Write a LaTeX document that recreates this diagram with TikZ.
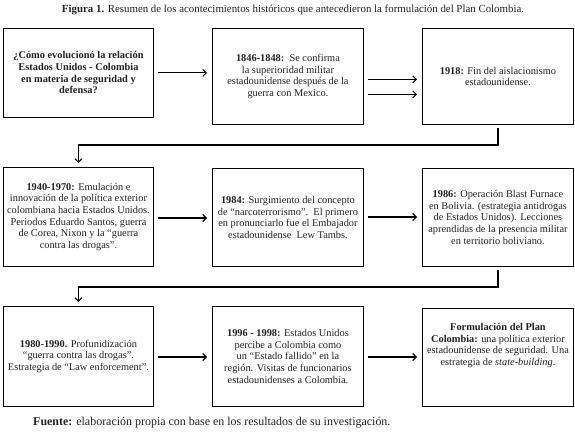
\documentclass[tikz,border=0pt]{standalone}
\usepackage{fontspec}
\setmainfont{Liberation Serif}
\usetikzlibrary{arrows.meta}
\definecolor{ink}{HTML}{222222}
\begin{document}
\begin{tikzpicture}[x=1bp,y=-1bp,
  box/.style={draw=black, line width=0.9bp, anchor=north west, inner sep=0pt,
    align=center, text=ink, font=\fontsize{10.4}{11.7}\selectfont},
  conn/.style={line width=1.1bp, -{Straight Barb[length=3.5bp,width=7bp]}, shorten >=5bp, shorten <=4bp},
  plain/.style={line width=1.1bp},
  captxt/.style={text=ink, inner sep=0pt}]
\useasboundingbox (0,0) rectangle (575,436);

\node[captxt, font=\fontsize{10.9}{12}\selectfont] (title) at (293,10)
  {\textbf{Figura 1.} Resumen de los acontecimientos históricos que antecedieron la formulación del Plan Colombia.};

% row 1
\node[box, minimum width=150bp, minimum height=89bp] (b1) at (3,28)
  {\textbf{¿Cómo evolucionó la relación}\\\textbf{Estados Unidos - Colombia}\\\textbf{en materia de seguridad y}\\\textbf{defensa?}};
\node[box, minimum width=151bp, minimum height=96bp] (b2) at (212,28)
  {\textbf{1846-1848:}\ \ Se confirma\\la superioridad militar\\estadounidense después de la\\guerra con Mexico.};
\node[box, minimum width=151bp, minimum height=96bp] (b3) at (422,28)
  {\textbf{1918:} Fin del aislacionismo\\estadounidense.};

% row 2
\node[box, minimum width=150bp, minimum height=99bp] (b4) at (3,167)
  {\textbf{1940-1970:} Emulación e\\innovación de la política exterior\\colombiana hacia Estados Unidos.\\Periodos Eduardo Santos, guerra\\de Corea, Nixon y la ``guerra\\contra las drogas''.};
\node[box, minimum width=151bp, minimum height=98bp] (b5) at (212,168)
  {\textbf{1984:} Surgimiento del concepto\\de ``narcoterrorismo''.\ \ El primero\\en pronunciarlo fue el Embajador\\estadounidense\ \ Lew Tambs.};
\node[box, minimum width=151bp, minimum height=98bp] (b6) at (422,168)
  {\textbf{1986:} Operación Blast Furnace\\en Bolivia. (estrategia antidrogas\\de Estados Unidos). Lecciones\\aprendidas de la presencia militar\\en territorio boliviano.};

% row 3
\node[box, minimum width=150bp, minimum height=100bp] (b7) at (3,306)
  {\textbf{1980-1990.} Profunidización\\``guerra contra las drogas''.\\Estrategia de ``Law enforcement''.};
\node[box, minimum width=151bp, minimum height=100bp] (b8) at (212,306)
  {\textbf{1996 - 1998:} Estados Unidos\\percibe a Colombia como\\un ``Estado fallido'' en la\\región. Visitas de funcionarios\\estadounidenses a Colombia.};
\node[box, minimum width=151bp, minimum height=98bp, text depth=26bp] (b9) at (422,308)
  {\textbf{Formulación del Plan}\\\textbf{Colombia:} una política exterior\\estadounidense de seguridad. Una\\estrategia de \textit{state-building}.};

\node[captxt, anchor=west, font=\fontsize{12}{13}\selectfont] (src) at (33,423)
  {\textbf{Fuente:} elaboración propia con base en los resultados de su investigación.};

% connectors row 1
\draw[conn] (b1.east) -- (b1.east -| b2.west);
\draw[conn] ([yshift=-18bp]b2.east) -- ([yshift=-18bp]b2.east -| b3.west);
\draw[conn] ([yshift=-3bp]b2.east) -- ([yshift=-3bp]b2.east -| b3.west);

% b3 -> b4
\draw[plain] ([yshift=-3bp]b3.south) -- (b3.south |- 0,145) -- (b4.north |- 0,145);
\draw[conn, shorten <=0bp, shorten >=4bp] (b4.north |- 0,145) -- (b4.north);

% row 2
\draw[conn] (b4.east |- 0,218) -- (b5.west |- 0,218);
\draw[conn] (b5.east |- 0,217) -- (b6.west |- 0,217);

% b6 -> b7
\draw[plain] ([yshift=-3bp]b6.south) -- (b6.south |- 0,287) -- (b7.north |- 0,287);
\draw[conn, shorten <=0bp, shorten >=4bp] (b7.north |- 0,287) -- (b7.north);

% row 3
\draw[conn] (b7.east |- 0,357) -- (b8.west |- 0,357);
\draw[conn] (b8.east |- 0,357) -- (b9.west |- 0,357);
\end{tikzpicture}
\end{document}
